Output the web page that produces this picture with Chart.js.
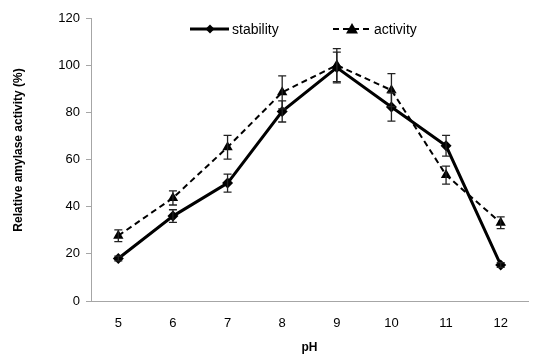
<!DOCTYPE html>
<html>
<head>
<meta charset="utf-8">
<script src="https://cdn.jsdelivr.net/npm/chart.js@4/dist/chart.umd.min.js"></script>
<style>
html,body{margin:0;padding:0;background:#fff;}
#wrap{width:534px;height:358px;position:relative;}
</style>
</head>
<body>
<div id="wrap"><canvas id="c" width="534" height="358"></canvas></div>
<script>
const categories = ['5','6','7','8','9','10','11','12'];
const stability = [18, 36, 50, 80.4, 99, 82.3, 65.8, 15.3];
const stabilityErr = [1, 2.7, 3.8, 4.5, 6.5, 6, 4.4, 1];
const activity = [27.7, 43.7, 65.2, 88.5, 100, 89.4, 53.4, 33.2];
const activityErr = [2.5, 3, 5, 7, 7, 7, 3.8, 2.5];
const yTicks = [0, 20, 40, 60, 80, 100, 120];
const seriesNames = ['stability', 'activity'];
const xTitle = 'pH';
const yTitle = 'Relative amylase activity (%)';

const FONT = 'Liberation Sans, Arial, sans-serif';
const AXIS = '#a6a6a6';

const errorBars = {
  id: 'errorBars',
  afterDatasetsDraw(chart) {
    const ctx = chart.ctx;
    const xs = chart.scales.x, ys = chart.scales.y;
    const sets = [[stability, stabilityErr], [activity, activityErr]];
    ctx.save();
    ctx.strokeStyle = '#222';
    ctx.lineWidth = 1.3;
    sets.forEach(([vals, errs]) => {
      vals.forEach((v, i) => {
        const x = xs.getPixelForValue(i);
        const y1 = ys.getPixelForValue(v + errs[i]);
        const y2 = ys.getPixelForValue(v - errs[i]);
        ctx.beginPath();
        ctx.moveTo(x, y1); ctx.lineTo(x, y2);
        ctx.moveTo(x - 4, y1); ctx.lineTo(x + 4, y1);
        ctx.moveTo(x - 4, y2); ctx.lineTo(x + 4, y2);
        ctx.stroke();
      });
    });
    ctx.restore();
  }
};

const customText = {
  id: 'customText',
  afterDraw(chart) {
    const ctx = chart.ctx;
    ctx.save();
    ctx.translate(19, 150);
    ctx.rotate(-Math.PI / 2);
    ctx.font = 'bold 12px ' + FONT;
    ctx.fillStyle = '#000';
    ctx.textAlign = 'center';
    ctx.textBaseline = 'middle';
    ctx.fillText(yTitle, 0, 0);
    ctx.restore();

    ctx.save();
    const ly = 29;
    ctx.font = '14px ' + FONT;
    ctx.fillStyle = '#000';
    ctx.textBaseline = 'middle';
    ctx.textAlign = 'left';
    ctx.strokeStyle = '#000';
    ctx.lineWidth = 3;
    ctx.setLineDash([]);
    ctx.beginPath(); ctx.moveTo(190, ly); ctx.lineTo(229, ly); ctx.stroke();
    ctx.beginPath();
    ctx.moveTo(210, ly - 4.5); ctx.lineTo(214.5, ly); ctx.lineTo(210, ly + 4.5); ctx.lineTo(205.5, ly);
    ctx.closePath(); ctx.fill();
    ctx.fillText(seriesNames[0], 232, ly + 1);
    ctx.lineWidth = 2;
    ctx.setLineDash([6, 4]);
    ctx.beginPath(); ctx.moveTo(333, ly); ctx.lineTo(371, ly); ctx.stroke();
    ctx.setLineDash([]);
    ctx.beginPath();
    ctx.moveTo(352, ly - 6); ctx.lineTo(358, ly + 4.5); ctx.lineTo(346, ly + 4.5);
    ctx.closePath(); ctx.fill();
    ctx.fillText(seriesNames[1], 374, ly + 1);
    ctx.restore();
  }
};

new Chart(document.getElementById('c'), {
  type: 'line',
  data: {
    labels: categories,
    datasets: [
      {
        label: seriesNames[0],
        data: stability,
        borderColor: '#000',
        backgroundColor: '#000',
        borderWidth: 3,
        pointStyle: 'rectRot',
        pointRadius: 5.5,
        pointBorderWidth: 0,
        tension: 0
      },
      {
        label: seriesNames[1],
        data: activity,
        borderColor: '#000',
        backgroundColor: '#000',
        borderWidth: 2,
        borderDash: [6, 4],
        pointStyle: 'triangle',
        pointRadius: 6,
        pointBorderWidth: 0,
        tension: 0
      }
    ]
  },
  options: {
    responsive: false,
    animation: false,
    devicePixelRatio: 1,
    layout: { padding: { top: 18, left: 0, right: -4, bottom: 0 } },
    plugins: { legend: { display: false }, tooltip: { enabled: false } },
    scales: {
      x: {
        type: 'category',
        offset: true,
        grid: { display: false, drawTicks: false },
        border: { display: true, color: AXIS, width: 1 },
        ticks: { color: '#000', font: { family: FONT, size: 13 }, padding: 15, maxRotation: 0 },
        title: { display: true, text: xTitle, color: '#000', font: { family: FONT, size: 12, weight: 'bold' }, padding: { top: 4, bottom: 3 } },
        afterFit(s) { s.height = 57; }
      },
      y: {
        min: 0, max: 120,
        afterBuildTicks(s) { s.ticks = yTicks.map(v => ({ value: v })); },
        grid: { display: true, drawOnChartArea: false, drawTicks: true, tickLength: 5, color: AXIS },
        border: { display: true, color: AXIS, width: 1 },
        ticks: { color: '#000', font: { family: FONT, size: 13 }, padding: 6 },
        afterFit(s) { s.width = 91; }
      }
    }
  },
  plugins: [errorBars, customText]
});
</script>
</body>
</html>
